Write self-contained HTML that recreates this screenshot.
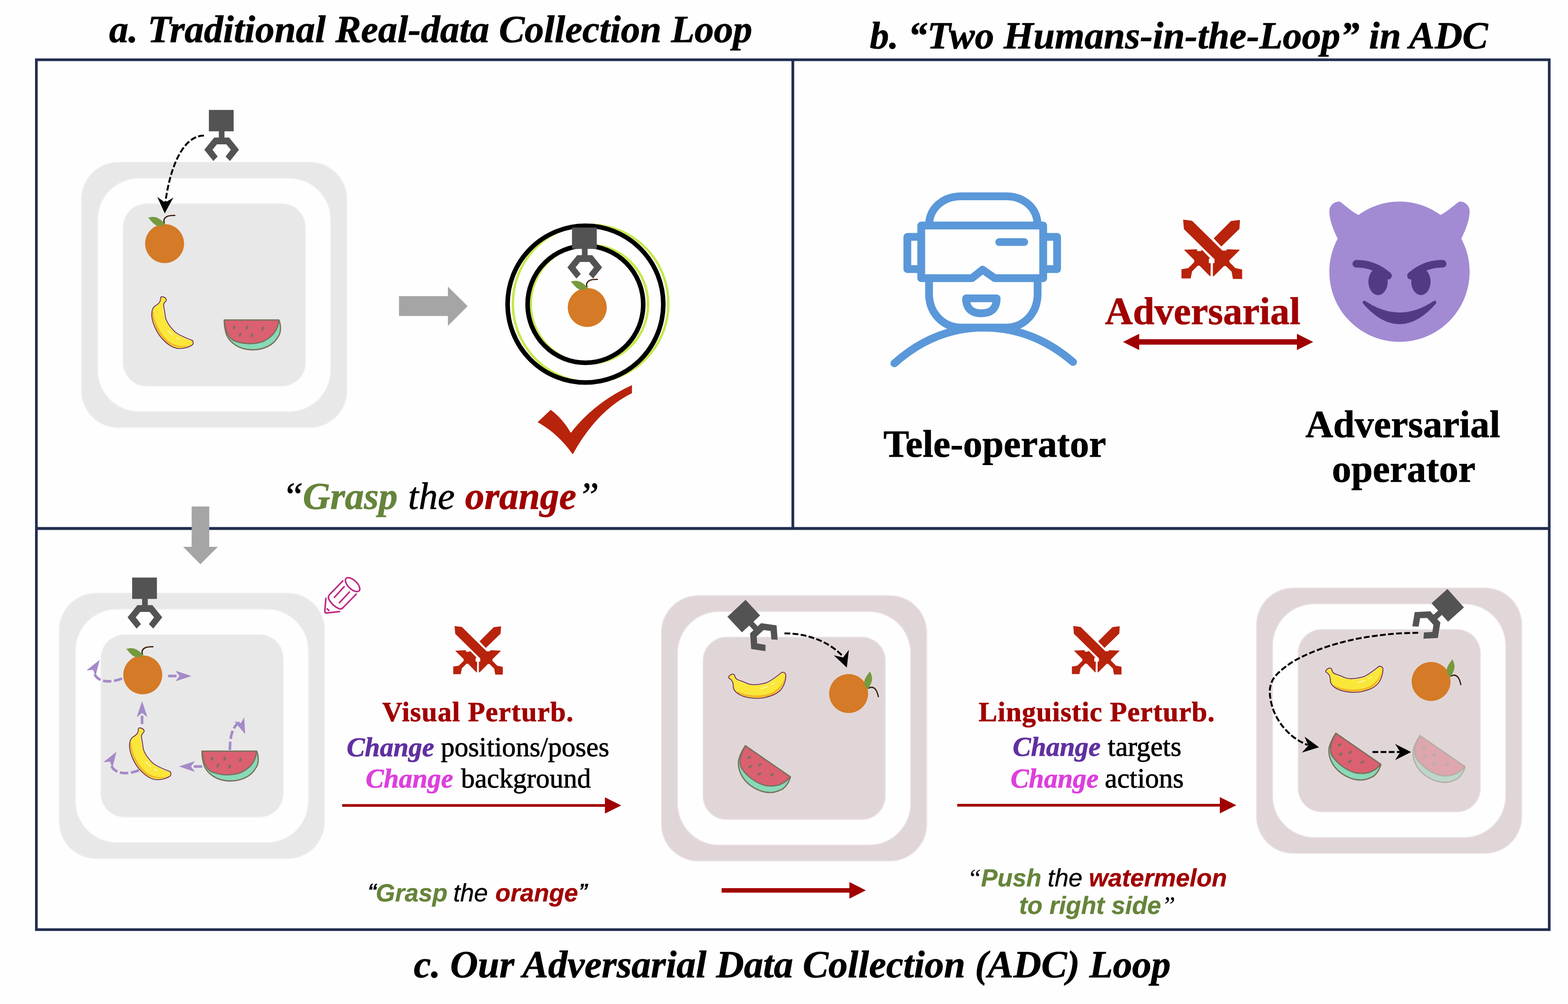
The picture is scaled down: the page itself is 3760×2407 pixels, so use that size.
<!DOCTYPE html>
<html lang="en"><head><meta charset="utf-8"><title>Adversarial Data Collection</title>
<style>html,body{margin:0;padding:0;background:#FEFEFE;}body{width:3760px;height:2407px;overflow:hidden;}svg{display:block;}text{white-space:pre;text-rendering:geometricPrecision;}</style>
</head><body>
<svg width="3760" height="2407" viewBox="0 0 3760 2407">
<defs>
<filter id="soft" x="-5%" y="-5%" width="110%" height="110%"><feGaussianBlur stdDeviation="1.1"/></filter>
<g id="grip" fill="#535353">
<rect x="-29.7" y="0" width="59.4" height="51.2"/>
<g transform="translate(0.9,0.8)"><rect x="-6.8" y="49" width="13.6" height="18"/>
<polygon points="-18,65.4 18,65.4 41.6,94.7 20,121.5 9.5,110.8 22,94.7 11.2,81.6 -11.2,81.6 -22,94.7 -9.5,110.8 -20,121.5 -41.6,94.7"/></g>
</g>
<g id="orange">
<circle r="46.7" fill="#D57A26"/>
<path d="M-0.8,-49 C-3.5,-58 0,-63 8.4,-65.9 C14,-67.5 20,-67.5 24.5,-67.4" fill="none" stroke="#3A2010" stroke-width="3" stroke-linecap="round"/>
<path d="M-39.4,-62.2 C-30,-65 -20,-65 -12.4,-59.1 C-6,-55 -1,-50 1.1,-46.4 C-6,-42 -14,-41.5 -20,-44 C-27,-47 -31,-53 -39.4,-62.2 Z" fill="#769A3E"/>
</g>
<g id="banana"><g transform="scale(0.103896) translate(-707.5,-802.5)">
<path d="M 440,215 C 455,200 500,200 545,235 C 575,260 575,295 545,320 C 520,340 505,370 505,410 C 510,470 535,560 540,640 C 550,760 650,900 770,1020 C 870,1100 1050,1170 1170,1215 C 1190,1250 1190,1290 1170,1315 C 1080,1380 950,1405 850,1400 C 700,1390 560,1280 440,1140 C 330,1000 240,800 230,640 C 225,530 260,450 310,415 C 370,380 410,350 425,300 C 432,270 430,240 440,215 Z" fill="#FAE73A"/>
<path d="M 240,540 C 235,800 380,1060 540,1230 C 700,1380 950,1410 1165,1315 C 1000,1365 770,1360 600,1215 C 430,1060 285,800 270,560 Z" fill="#F2B52B"/>
<path d="M 600,990 L 720,1100 M 800,1155 L 870,1190" stroke="#fff" stroke-width="14" stroke-linecap="round" fill="none"/>
<path d="M 488,440 C 505,700 625,910 790,1052 C 890,1122 1040,1182 1140,1222" stroke="#FFFBD8" stroke-width="9" fill="none"/>
<path d="M 440,215 C 455,200 500,200 545,235 C 575,260 575,295 545,320 C 520,340 505,370 505,410 C 510,470 535,560 540,640 C 550,760 650,900 770,1020 C 870,1100 1050,1170 1170,1215 C 1190,1250 1190,1290 1170,1315 C 1080,1380 950,1405 850,1400 C 700,1390 560,1280 440,1140 C 330,1000 240,800 230,640 C 225,530 260,450 310,415 C 370,380 410,350 425,300 C 432,270 430,240 440,215 Z" fill="none" stroke="#6B2D5E" stroke-width="20" stroke-linejoin="round"/>
</g></g>
<g id="melon"><g transform="scale(0.110388) translate(-767.5,-747.5)">
<path d="M 160,428 L 1350,428 C 1400,560 1390,720 1330,790 C 1230,980 1000,1080 760,1075 C 480,1070 290,920 215,760 C 180,660 160,540 160,428 Z" fill="#88DAB8" stroke="#7B715E" stroke-width="28" stroke-linejoin="round"/>
<path d="M 165,428 L 1345,428 C 1330,650 1200,800 1010,890 C 800,970 540,950 360,870 C 240,800 180,640 165,428 Z" fill="#DB6070" stroke="#7B715E" stroke-width="28" stroke-linejoin="round"/>
<g fill="#7B715E">
<ellipse cx="375" cy="590" rx="24" ry="46" transform="rotate(22 375 590)"/>
<ellipse cx="653" cy="590" rx="24" ry="46" transform="rotate(18 653 590)"/>
<ellipse cx="993" cy="615" rx="24" ry="46" transform="rotate(18 993 615)"/>
<ellipse cx="505" cy="740" rx="24" ry="46" transform="rotate(18 505 740)"/>
<ellipse cx="760" cy="760" rx="24" ry="46" transform="rotate(18 760 760)"/>
</g></g></g>
<g id="swords" fill="#B8230C"><g transform="scale(0.12987) translate(-250,-205)">
<polygon points="1335,210 1325,375 990,700 850,550 1170,230"/>
<polygon points="300,760 540,750 545,785 610,785 635,765 780,915 760,935 760,1005 795,1010 790,1250 780,1250 590,1055 555,1055 450,1160 425,1290 255,1290 255,1120 380,1100 490,990 490,950"/>
<polygon points="285,205 450,225 1010,775 1085,775 1090,750 1335,760 1140,955 1140,990 1250,1100 1375,1125 1375,1300 1205,1300 1180,1165 1075,1060 1040,1060 850,1250 835,1250 835,1010 865,1005 865,935 300,380"/>
</g></g>
</defs>
<rect width="3760" height="2407" fill="#FEFEFE"/>
<rect x="87.2" y="143.3" width="3627.8" height="2085.4" fill="none" stroke="#222E50" stroke-width="6.4"/>
<line x1="84" y1="1267" x2="3718" y2="1267" stroke="#222E50" stroke-width="7.2"/>
<line x1="1901.2" y1="143" x2="1901.2" y2="1267" stroke="#222E50" stroke-width="6.6"/>
<g filter="url(#soft)"><rect x="195.0" y="388.5" width="637.0" height="637.0" rx="89" fill="#E8E8E8"/><rect x="234.5" y="427.5" width="558" height="559" rx="99" fill="#FEFEFE"/><rect x="294.8" y="488.0" width="438" height="438" rx="57" fill="#E8E8E8"/></g>
<use href="#orange" x="394.7" y="584"/>
<use href="#banana" x="413.5" y="773.4"/>
<use href="#melon" x="604.7" y="802.5"/>
<use href="#grip" x="530.6" y="263.6"/>
<path d="M489,325 C445,325 410,385 396.3,487" fill="none" stroke="#000" stroke-width="4.6" stroke-dasharray="14 5.5" />
<polygon points="395.1,511.4 415.7,473.7 396.0,485.4 377.2,472.3" fill="#000"/>
<polygon points="956.8,710.1 1074.1,710.1 1074.1,687 1121.4,734 1074.1,781.3 1074.1,757.4 956.8,757.4" fill="#A5A5A5"/>
<ellipse cx="1416.3" cy="727.5" rx="186.5" ry="188.5" fill="none" stroke="#C5E84D" stroke-width="5.8"/>
<ellipse cx="1413.4" cy="729" rx="140.7" ry="142.1" fill="none" stroke="#C5E84D" stroke-width="6"/>
<ellipse cx="1403.85" cy="729.2" rx="186.7" ry="187.9" fill="none" stroke="#000" stroke-width="11"/>
<ellipse cx="1403.8" cy="729.6" rx="138.65" ry="140.05" fill="none" stroke="#000" stroke-width="11"/>
<use href="#grip" x="1401.3" y="545.5"/>
<use href="#orange" x="1408.2" y="737.2"/>
<path transform="translate(1240,900) scale(0.13635)" d="M360,823 L592,605 Q800,760 945,1010 Q1350,480 2020,170 L2020,312 Q1400,620 978,1388 Q720,1020 360,823 Z" fill="#B8230C"/>
<g transform="translate(2100,430) scale(0.31175)" fill="none" stroke="#5A98D9" stroke-width="60" stroke-linecap="round" stroke-linejoin="round">
<path d="M410,355 C410,220 520,130 660,130 L1000,130 C1140,130 1245,220 1245,355"/>
<path d="M350,355 L1288,355 L1288,760 L915,760 L822,695 L740,760 L350,760 Z"/>
<path d="M350,442 L243,442 L243,690 L350,690"/>
<path d="M1288,442 L1395,442 L1395,690 L1288,690"/>
<path d="M950,482 L1142,482"/>
<path d="M410,760 L410,880 C410,1030 520,1140 660,1140 L1000,1140 C1140,1140 1245,1030 1245,880 L1245,760"/>
<path d="M695,915 L930,915 C930,1000 880,1030 812,1030 C745,1030 695,1000 695,915 Z"/>
<path d="M143,1415 Q450,1140 830,1140 Q1210,1140 1518,1405"/>
</g>
<use href="#swords" x="2832.5" y="526.6"/>
<polygon points="2692.9,819.7 2731.7,800.3 2731.7,813.2 3110,813.2 3110,800.3 3148.9,819.7 3110,839.2 3110,826.3 2731.7,826.3 2731.7,839.2" fill="#A00000"/>
<g transform="translate(3187.7,483.2) scale(9.345)">
<path fill="#A28BD3" d="M36 18c0 9.941-8.059 18-18 18S0 27.941 0 18c0-3.067.775-5.95 2.129-8.477C0.9 7 0 4.6 0 2.5 0 1.119 1.119 0 2.5 0 3.112 0 5.338 2.435 7.5 3.441 10.441 1.271 14.06 0 18 0s7.559 1.271 10.5 3.441C30.662 2.435 32.888 0 33.5 0 34.881 0 36 1.119 36 2.5C36 4.6 35.1 7 33.871 9.523 35.225 12.05 36 14.933 36 18z"/>
<g fill="#523B84" stroke="#523B84">
<path d="M9,25.9 Q18,31.96 27,25.9 Q18,36.14 9,25.9 Z" stroke-width="0.9" stroke-linejoin="round"/>
<ellipse cx="12.5" cy="20.55" rx="2.48" ry="3.45" stroke="none"/>
<ellipse cx="23.5" cy="20.55" rx="2.48" ry="3.45" stroke="none"/>
<path d="M6.92,15.97 Q11.3,15.85 15.05,19.03" fill="none" stroke-width="1.95" stroke-linecap="round"/>
<path d="M29.08,15.97 Q24.7,15.85 20.95,19.03" fill="none" stroke-width="1.95" stroke-linecap="round"/>
</g></g>
<polygon points="459.6,1214.2 501.8,1214.2 501.8,1310.9 522.5,1310.9 480.6,1352.7 439.1,1310.9 459.6,1310.9" fill="#A5A5A5"/>
<g filter="url(#soft)"><rect x="141.7" y="1421.7" width="637.0" height="637.0" rx="89" fill="#E8E8E8"/><rect x="181.2" y="1460.7" width="558" height="559" rx="99" fill="#FEFEFE"/><rect x="241.5" y="1521.2" width="438" height="438" rx="57" fill="#E8E8E8"/></g>
<use href="#orange" x="342.3" y="1617.9"/>
<use href="#banana" x="360.2" y="1807.1"/>
<use href="#melon" x="551.4" y="1836.2"/>
<use href="#grip" x="346.6" y="1384.6"/>
<path d="M292.7,1626.6 C270,1636 232,1640 224.5,1610" fill="none" stroke="#A48AC8" stroke-width="6.2" stroke-dasharray="20 6.5" />
<polygon points="238.9,1582.0 207.4,1607.3 223.5,1605.9 228.9,1621.2" fill="#A48AC8"/>
<path d="M403.3,1620.7 L430,1620.7" fill="none" stroke="#A48AC8" stroke-width="6.2" stroke-dasharray="20 6.5" />
<polygon points="458.9,1620.7 420.6,1607.9 430.5,1620.7 420.6,1633.5" fill="#A48AC8"/>
<path d="M340.7,1735.9 L340.7,1712" fill="none" stroke="#A48AC8" stroke-width="6.2" stroke-dasharray="20 6.5" />
<polygon points="340.7,1680.9 327.9,1719.2 340.7,1709.3 353.5,1719.2" fill="#A48AC8"/>
<path d="M551.2,1798 C551.5,1768 556,1742 575,1731.5" fill="none" stroke="#A48AC8" stroke-width="6.2" stroke-dasharray="20 6.5" />
<polygon points="587.9,1760.0 585.6,1719.7 577.4,1733.6 561.8,1729.2" fill="#A48AC8"/>
<path d="M484.8,1837.6 L458,1837.6" fill="none" stroke="#A48AC8" stroke-width="6.2" stroke-dasharray="20 6.5" />
<polygon points="429.3,1837.6 467.6,1850.4 457.7,1837.6 467.6,1824.8" fill="#A48AC8"/>
<path d="M333.2,1846.6 C310.5,1856 272.5,1860 265,1830" fill="none" stroke="#A48AC8" stroke-width="6.2" stroke-dasharray="20 6.5" />
<polygon points="279.4,1802.0 247.9,1827.3 264.0,1825.9 269.4,1841.2" fill="#A48AC8"/>
<g transform="translate(760,1370) scale(0.0714286)" fill="none" stroke="#BE2A83" stroke-width="52" stroke-linecap="round" stroke-linejoin="round">
<ellipse cx="1197" cy="443" rx="302" ry="148" transform="rotate(43.5 1197 443)"/>
<path d="M870,315 L430,770 Q350,850 410,950 Q520,1150 740,1250 Q820,1280 880,1210 L1320,760"/>
<path d="M915,510 L585,870 M1090,690 L755,1050"/>
<path d="M300,900 L265,1340 Q265,1395 320,1395 L760,1345"/>
<path d="M345,1255 L400,1310"/>
</g>
<use href="#swords" transform="translate(1086.3,1501) scale(0.8173)"/>
<use href="#swords" transform="translate(2569.9,1500.8) scale(0.8173)"/>
<polygon points="820.5,1927.7 1450.6,1927.7 1450.6,1911.5 1489.7,1931 1450.6,1950.5 1450.6,1934.3 820.5,1934.3" fill="#A00000"/>
<polygon points="2295.4,1927.2 2925.1,1927.2 2925.1,1911.0 2964.6,1930.5 2925.1,1950.0 2925.1,1933.8 2295.4,1933.8" fill="#A00000"/>
<polygon points="1730.4,2129.2999999999997 2036.8,2129.2999999999997 2036.8,2114.6 2076.2,2134.6 2036.8,2154.6 2036.8,2139.9 1730.4,2139.9" fill="#A00000"/>
<g filter="url(#soft)"><rect x="1585.6" y="1427.6" width="637.0" height="637.0" rx="89" fill="#E1D6D7"/><rect x="1625.1" y="1466.6" width="558" height="559" rx="99" fill="#FEFEFE"/><rect x="1685.4" y="1527.1" width="438" height="438" rx="57" fill="#E1D6D7"/></g>
<use href="#banana" transform="translate(1814,1631.5) rotate(-59.8)"/>
<use href="#orange" transform="translate(2035,1662.7) rotate(76)"/>
<use href="#melon" transform="translate(1822.4,1855) rotate(34.6)"/>
<use href="#grip" transform="translate(1766.1,1458.3) rotate(-42.9)"/>
<path d="M1881.1,1518.5 C1930,1518 1985,1535 2021,1573.3" fill="none" stroke="#000" stroke-width="4.6" stroke-dasharray="14 5.5" />
<polygon points="2030.6,1600.6 2035.6,1557.9 2021.7,1576.2 1999.3,1571.1" fill="#000"/>
<g filter="url(#soft)"><rect x="3012.6" y="1409.3" width="637.0" height="637.0" rx="89" fill="#E1D6D7"/><rect x="3052.1" y="1448.3" width="558" height="559" rx="99" fill="#FEFEFE"/><rect x="3112.4" y="1508.8" width="438" height="438" rx="57" fill="#E1D6D7"/></g>
<use href="#banana" transform="translate(3245.8,1617.1) rotate(-59.8)"/>
<use href="#orange" transform="translate(3431.7,1633.7) rotate(76)"/>
<use href="#melon" transform="translate(3238.4,1825) rotate(34.6)"/>
<use href="#melon" transform="translate(3440.2,1830.7) rotate(34.6)" opacity="0.4"/>
<use href="#grip" transform="translate(3490.7,1434.2) rotate(48.2)"/>
<path d="M3400.8,1517.0 C3392.5,1517.3 3366.7,1517.8 3351.1,1518.8 C3335.5,1519.8 3321.7,1521.4 3307.0,1523.2 C3292.3,1525.0 3277.5,1527.0 3262.8,1529.8 C3248.1,1532.5 3233.4,1535.8 3218.7,1539.7 C3204.0,1543.6 3189.2,1547.8 3174.5,1553.0 C3159.8,1558.2 3143.3,1564.7 3130.4,1570.6 C3117.5,1576.5 3107.2,1582.0 3097.3,1588.3 C3087.4,1594.6 3078.2,1601.6 3070.8,1608.2 C3063.4,1614.8 3057.3,1621.0 3053.1,1628.0 C3048.9,1635.0 3046.6,1642.7 3045.4,1650.1 C3044.2,1657.5 3045.1,1664.8 3046.0,1672.2 C3046.9,1679.6 3048.6,1687.0 3050.9,1694.3 C3053.2,1701.6 3055.6,1708.6 3059.7,1716.3 C3063.8,1724.0 3069.3,1733.0 3075.2,1740.6 C3081.1,1748.1 3088.5,1755.7 3095.1,1761.6 C3101.7,1767.5 3108.1,1771.8 3114.9,1775.9 C3121.7,1780.0 3132.5,1784.6 3136.0,1786.3" fill="none" stroke="#000" stroke-width="4.6" stroke-dasharray="14 5.5" />
<polygon points="3163.0,1791.4 3128.3,1766.1 3137.3,1787.2 3122.0,1804.2" fill="#000"/>
<path d="M3291.1,1802.9 L3360,1802.9" fill="none" stroke="#000" stroke-width="4.6" stroke-dasharray="14 5.5" />
<polygon points="3383.8,1802.9 3345.4,1783.6 3357.8,1802.9 3345.4,1822.2" fill="#000"/>
<text stroke-linejoin="round"><tspan x="261.68" y="100.8" font-family='"Liberation Serif", serif' font-size="92.29" font-style="italic" font-weight="bold" fill="#000000" stroke="#000000" stroke-width="1.0">a. Traditional Real-data Collection Loop</tspan></text>
<text stroke-linejoin="round"><tspan x="2085.68" y="116.4" font-family='"Liberation Serif", serif' font-size="91.96" font-style="italic" font-weight="bold" fill="#000000" stroke="#000000" stroke-width="1.0">b. “Two Humans-in-the-Loop” in ADC</tspan></text>
<text stroke-linejoin="round"><tspan x="676.45" y="1219.8" font-family='"Liberation Serif", serif' font-size="92.00" font-style="italic" font-weight="normal" fill="#000000" stroke="#000000" stroke-width="1.0">“</tspan><tspan x="726.27" y="1219.8" font-family='"Liberation Serif", serif' font-size="90.88" font-style="italic" font-weight="bold" fill="#66843B" stroke="#66843B" stroke-width="1.0">Grasp </tspan><tspan x="978.54" y="1219.8" font-family='"Liberation Serif", serif' font-size="91.59" font-style="italic" font-weight="normal" fill="#000000" stroke="#000000" stroke-width="1.0">the </tspan><tspan x="1115.22" y="1219.8" font-family='"Liberation Serif", serif' font-size="92.32" font-style="italic" font-weight="bold" fill="#A00000" stroke="#A00000" stroke-width="1.0">orange</tspan><tspan x="1385.25" y="1219.8" font-family='"Liberation Serif", serif' font-size="92.00" font-style="italic" font-weight="normal" fill="#000000" stroke="#000000" stroke-width="1.0">”</tspan></text>
<text stroke-linejoin="round"><tspan x="2649.84" y="776.6" font-family='"Liberation Serif", serif' font-size="92.66" font-style="normal" font-weight="bold" fill="#A00000" stroke="#A00000" stroke-width="1.0">Adversarial</tspan></text>
<text stroke-linejoin="round"><tspan x="2118.52" y="1095.0" font-family='"Liberation Serif", serif' font-size="92.13" font-style="normal" font-weight="bold" fill="#000000" stroke="#000000" stroke-width="1.0">Tele-operator</tspan></text>
<text stroke-linejoin="round"><tspan x="3130.24" y="1048.4" font-family='"Liberation Serif", serif' font-size="92.42" font-style="normal" font-weight="bold" fill="#000000" stroke="#000000" stroke-width="1.0">Adversarial </tspan><tspan x="3193.96" y="1154.8" font-family='"Liberation Serif", serif' font-size="92.50" font-style="normal" font-weight="bold" fill="#000000" stroke="#000000" stroke-width="1.0">operator</tspan></text>
<text stroke-linejoin="round"><tspan x="916.53" y="1728.5" font-family='"Liberation Serif", serif' font-size="66.90" font-style="normal" font-weight="bold" fill="#A00000" stroke="#A00000" stroke-width="1.0" letter-spacing="1.32">Visual Perturb.</tspan></text>
<text stroke-linejoin="round"><tspan x="831.45" y="1813.1" font-family='"Liberation Serif", serif' font-size="65.09" font-style="italic" font-weight="bold" fill="#6030A0" stroke="#6030A0" stroke-width="1.0">Change </tspan><tspan x="1057.01" y="1813.1" font-family='"Liberation Serif", serif' font-size="66.09" font-style="normal" font-weight="normal" fill="#000000" stroke="#000000" stroke-width="1.0">positions/poses</tspan></text>
<text stroke-linejoin="round"><tspan x="876.95" y="1888.4" font-family='"Liberation Serif", serif' font-size="65.05" font-style="italic" font-weight="bold" fill="#DD3FDD" stroke="#DD3FDD" stroke-width="1.0">Change </tspan><tspan x="1105.60" y="1888.4" font-family='"Liberation Serif", serif' font-size="65.98" font-style="normal" font-weight="normal" fill="#000000" stroke="#000000" stroke-width="1.0">background</tspan></text>
<text stroke-linejoin="round"><tspan x="2346.80" y="1728.5" font-family='"Liberation Serif", serif' font-size="66.90" font-style="normal" font-weight="bold" fill="#A00000" stroke="#A00000" stroke-width="1.0" letter-spacing="1.08">Linguistic Perturb.</tspan></text>
<text stroke-linejoin="round"><tspan x="2428.54" y="1812.1" font-family='"Liberation Serif", serif' font-size="65.40" font-style="italic" font-weight="bold" fill="#6030A0" stroke="#6030A0" stroke-width="1.0">Change </tspan><tspan x="2656.37" y="1812.1" font-family='"Liberation Serif", serif' font-size="66.67" font-style="normal" font-weight="normal" fill="#000000" stroke="#000000" stroke-width="1.0">targets</tspan></text>
<text stroke-linejoin="round"><tspan x="2423.44" y="1888.1" font-family='"Liberation Serif", serif' font-size="65.43" font-style="italic" font-weight="bold" fill="#DD3FDD" stroke="#DD3FDD" stroke-width="1.0">Change </tspan><tspan x="2649.26" y="1888.1" font-family='"Liberation Serif", serif' font-size="66.84" font-style="normal" font-weight="normal" fill="#000000" stroke="#000000" stroke-width="1.0">actions</tspan></text>
<text stroke-linejoin="round" opacity="0.996"><tspan x="880.99" y="2151.5" font-family='"Liberation Sans", sans-serif' font-size="48.00" font-style="italic" font-weight="bold" fill="#000000" stroke="#000000" stroke-width="0.5">“</tspan><tspan x="901.12" y="2160.6" font-family='"Liberation Sans", sans-serif' font-size="59.52" font-style="italic" font-weight="bold" fill="#66843B" stroke="#66843B" stroke-width="0.5">Grasp </tspan><tspan x="1086.90" y="2160.6" font-family='"Liberation Sans", sans-serif' font-size="59.89" font-style="italic" font-weight="normal" fill="#000000" stroke="#000000" stroke-width="0.5">the </tspan><tspan x="1187.82" y="2160.6" font-family='"Liberation Sans", sans-serif' font-size="59.49" font-style="italic" font-weight="bold" fill="#A00000" stroke="#A00000" stroke-width="0.5">orange</tspan><tspan x="1386.39" y="2151.5" font-family='"Liberation Sans", sans-serif' font-size="48.00" font-style="italic" font-weight="bold" fill="#000000" stroke="#000000" stroke-width="0.5">”</tspan></text>
<text stroke-linejoin="round"><tspan x="2319.60" y="2124.7" font-family='"Liberation Serif", serif' font-size="60.00" font-style="italic" font-weight="normal" fill="#000000" stroke="#000000" stroke-width="0.2">“</tspan><tspan x="2352.41" y="2124.7" font-family='"Liberation Sans", sans-serif' font-size="59.27" font-style="italic" font-weight="bold" fill="#66843B" stroke="#66843B" stroke-width="0.5">Push </tspan><tspan x="2512.19" y="2124.7" font-family='"Liberation Sans", sans-serif' font-size="60.12" font-style="italic" font-weight="normal" fill="#000000" stroke="#000000" stroke-width="0.5">the </tspan><tspan x="2611.02" y="2124.7" font-family='"Liberation Sans", sans-serif' font-size="59.60" font-style="italic" font-weight="bold" fill="#A00000" stroke="#A00000" stroke-width="0.5">watermelon </tspan><tspan x="2443.72" y="2190.5" font-family='"Liberation Sans", sans-serif' font-size="59.51" font-style="italic" font-weight="bold" fill="#66843B" stroke="#66843B" stroke-width="0.5">to right side</tspan><tspan x="2784.95" y="2190.5" font-family='"Liberation Serif", serif' font-size="60.00" font-style="italic" font-weight="normal" fill="#000000" stroke="#000000" stroke-width="0.2">”</tspan></text>
<text stroke-linejoin="round"><tspan x="992.28" y="2342.7" font-family='"Liberation Serif", serif' font-size="92.33" font-style="italic" font-weight="bold" fill="#000000" stroke="#000000" stroke-width="1.0">c. Our Adversarial Data Collection (ADC) Loop</tspan></text>
</svg>
</body></html>
